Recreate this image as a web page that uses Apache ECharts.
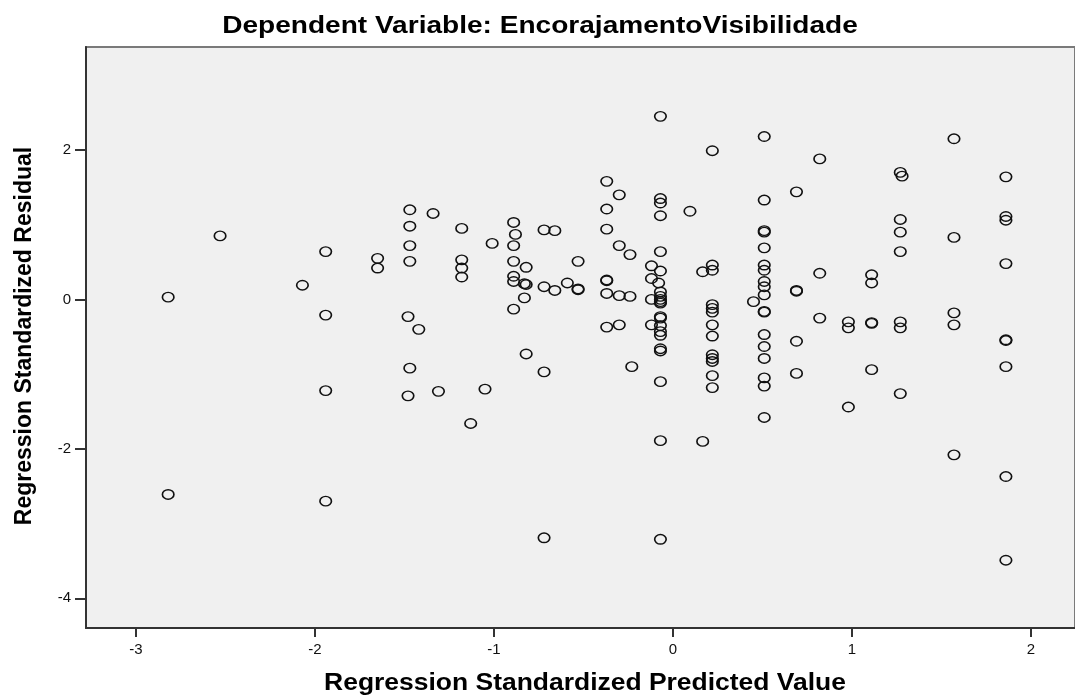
<!DOCTYPE html>
<html>
<head>
<meta charset="utf-8">
<script src="https://cdn.jsdelivr.net/npm/echarts@6/dist/echarts.min.js"></script>
<style>
  html, body { margin: 0; padding: 0; background: #fff; }
  #main { width: 1075px; height: 700px; }
</style>
</head>
<body>
<div id="main"></div>
<script>
var titleText = 'Dependent Variable: EncorajamentoVisibilidade'
var xName = 'Regression Standardized Predicted Value'
var yName = 'Regression Standardized Residual'

var xTicks = [-3, -2, -1, 0, 1, 2]
var yTicks = [-4, -2, 0, 2]

// predicted value / residual
var predicted = [
  -2.82, -2.82, -2.53, -2.07,
  -1.94, -1.94, -1.94, -1.94,
  -1.65, -1.65,
  -1.47, -1.47, -1.47, -1.47, -1.48, -1.47, -1.48,
  -1.34, -1.42, -1.31,
  -1.18, -1.18, -1.18, -1.18, -1.13, -1.05, -1.01,
  -0.89, -0.88, -0.89, -0.89, -0.89, -0.89, -0.89,
  -0.82, -0.83, -0.82, -0.83, -0.82,
  -0.72, -0.66, -0.72, -0.66, -0.72, -0.72,
  -0.59, -0.53, -0.53, -0.53,
  -0.37, -0.37, -0.37, -0.37, -0.37, -0.37, -0.37,
  -0.30, -0.30, -0.30, -0.30,
  -0.24, -0.24, -0.23,
  -0.12, -0.12, -0.12, -0.12, -0.08,
  -0.07, -0.07, -0.07, -0.07, -0.07, -0.07, -0.07, -0.07, -0.07, -0.07, -0.07,
  -0.07, -0.07, -0.07, -0.07, -0.07, -0.07, -0.07, -0.07, -0.07, -0.07,
  0.095, 0.166, 0.166,
  0.22, 0.22, 0.22, 0.22, 0.22, 0.22, 0.22, 0.22, 0.22, 0.22, 0.22, 0.22, 0.22,
  0.45,
  0.51, 0.51, 0.51, 0.51, 0.51, 0.51, 0.51, 0.51, 0.51,
  0.51, 0.51, 0.51, 0.51, 0.51, 0.51, 0.51, 0.51, 0.51,
  0.69, 0.69, 0.69, 0.69, 0.69,
  0.82, 0.82, 0.82,
  0.98, 0.98, 0.98,
  1.11, 1.11, 1.11, 1.11, 1.11,
  1.27, 1.28, 1.27, 1.27, 1.27, 1.27, 1.27, 1.27,
  1.57, 1.57, 1.57, 1.57, 1.57,
  1.86, 1.86, 1.86, 1.86, 1.86, 1.86, 1.86, 1.86, 1.86
]
var residual = [
  0.03, -2.61, 0.85, 0.19,
  0.64, -0.21, -1.22, -2.70,
  0.55, 0.42,
  1.20, 0.98, 0.72, 0.51, -0.23, -0.92, -1.29,
  1.15, -0.40, -1.23,
  0.95, 0.53, 0.42, 0.30, -1.66, -1.20, 0.75,
  1.03, 0.87, 0.72, 0.51, 0.31, 0.24, -0.13,
  0.43, 0.21, 0.20, 0.02, -0.73,
  0.93, 0.92, 0.17, 0.12, -0.97, -3.19,
  0.22, 0.51, 0.14, 0.13,
  1.58, 1.21, 0.94, 0.26, 0.25, 0.08, -0.37,
  1.40, 0.72, 0.05, -0.34,
  0.60, 0.04, -0.90,
  0.45, 0.28, 0.00, -0.34, 0.22,
  2.45, 1.35, 1.29, 1.12, 0.64, 0.38, 0.10, 0.04, 0.00, -0.03, -0.05,
  -0.23, -0.25, -0.35, -0.43, -0.48, -0.66, -0.69, -1.10, -1.89, -3.21,
  1.18, 0.37, -1.90,
  1.99, 0.46, 0.39, -0.07, -0.12, -0.17, -0.34, -0.49, -0.74, -0.79, -0.83, -1.02, -1.18,
  -0.03,
  2.18, 1.33, 0.92, 0.90, 0.69, 0.46, 0.39, 0.24, 0.17,
  0.06, -0.16, -0.17, -0.47, -0.63, -0.79, -1.05, -1.16, -1.58,
  1.44, 0.12, 0.11, -0.56, -0.99,
  1.88, 0.35, -0.25,
  -0.30, -0.38, -1.44,
  0.33, 0.22, -0.31, -0.32, -0.94,
  1.70, 1.65, 1.07, 0.90, 0.64, -0.30, -0.38, -1.26,
  2.15, 0.83, -0.18, -0.34, -2.08,
  1.64, 1.11, 1.06, 0.48, -0.54, -0.55, -0.90, -2.37, -3.49
]

var points = predicted.map(function (x, i) { return [x, residual[i]] })

var myChart = echarts.init(document.getElementById('main'), null, { renderer: 'canvas' })

var option = {
  animation: false,
  backgroundColor: '#ffffff',
  textStyle: { fontFamily: 'Liberation Sans, Arial, sans-serif' },
  grid: {
    left: 86, right: 0, top: 47, bottom: 72,
    show: true,
    backgroundColor: '#f0f0f0',
    borderColor: '#7a7a7a',
    borderWidth: 2
  },
  xAxis: {
    type: 'value',
    min: -3.279,
    max: 2.246,
    axisLine: { show: true, onZero: false, lineStyle: { color: '#333', width: 2 } },
    axisTick: { show: true, length: 9, customValues: xTicks, lineStyle: { color: '#333', width: 2 } },
    axisLabel: { customValues: xTicks, margin: 14, color: '#111', fontSize: 15, fontFamily: 'Liberation Sans' },
    splitLine: { show: false }
  },
  yAxis: {
    type: 'value',
    min: -4.397,
    max: 3.378,
    axisLine: { show: true, onZero: false, lineStyle: { color: '#333', width: 2 } },
    axisTick: { show: true, length: 11, customValues: yTicks, lineStyle: { color: '#333', width: 2 } },
    axisLabel: { customValues: yTicks, margin: 15, color: '#111', fontSize: 15, fontFamily: 'Liberation Sans' },
    splitLine: { show: false }
  },
  graphic: [
    {
      type: 'text', x: 540, y: 27, scaleX: 1.22, silent: true,
      style: { text: titleText, align: 'center', verticalAlign: 'middle',
        font: 'bold 23px "Liberation Sans", Arial, sans-serif', fill: '#000' }
    },
    {
      type: 'text', x: 585, y: 684, scaleX: 1.15, silent: true,
      style: { text: xName, align: 'center', verticalAlign: 'middle',
        font: 'bold 23px "Liberation Sans", Arial, sans-serif', fill: '#000' }
    },
    {
      type: 'text', x: 25, y: 336, rotation: Math.PI / 2, silent: true,
      style: { text: yName, align: 'center', verticalAlign: 'middle',
        font: 'bold 23px "Liberation Sans", Arial, sans-serif', fill: '#000' }
    }
  ],
  series: [{
    type: 'scatter',
    data: points,
    symbol: 'circle',
    symbolSize: [11.5, 9.5],
    itemStyle: { color: 'rgba(0,0,0,0)', borderColor: '#111', borderWidth: 1.5, opacity: 1 },
    emphasis: { disabled: true }
  }]
}

myChart.setOption(option)
</script>
</body>
</html>
